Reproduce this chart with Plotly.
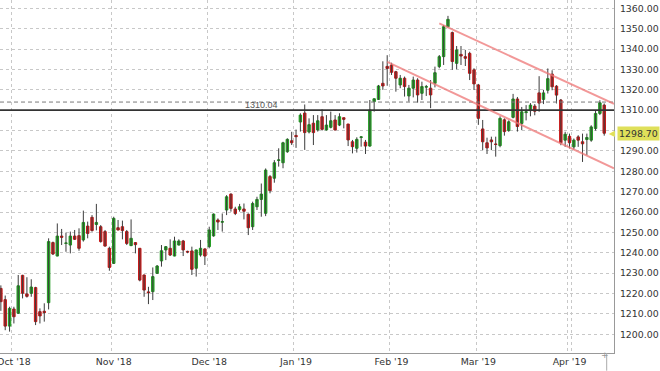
import pandas as pd
import plotly.graph_objects as go

# ---------------- data ----------------
_days = pd.bdate_range("2018-09-26", "2019-04-11")
dates = [d.strftime("%Y-%m-%d") for d in _days if d.strftime("%m-%d") not in ("12-25", "01-01")]

open_ = [
    1222.5, 1217.0, 1204.0,
    1212.4, 1210.3, 1228.9, 1219.8, 1220.1, 1222.9, 1211.1, 1211.3, 1215.5, 1245.0, 1238.4, 1248.2, 1244.6, 1243.8, 1248.2, 1248.4, 1246.3, 1253.1, 1257.4, 1253.9, 1252.8, 1250.4, 1242.2,
    1234.8, 1252.3, 1252.8, 1250.4, 1243.5, 1245.0, 1242.2, 1229.1, 1220.8, 1220.9, 1229.9, 1236.0, 1241.4, 1242.2, 1238.4, 1243.8, 1245.8, 1240.7, 1240.9, 1232.4, 1238.9, 1241.9,
    1243.0, 1248.3, 1256.1, 1255.0, 1261.0, 1268.8, 1261.5, 1261.3, 1261.5, 1258.9, 1252.8, 1262.6, 1266.2, 1259.4, 1277.4, 1276.6, 1285.3, 1284.2, 1289.6, 1295.0,
    1297.6, 1304.2, 1308.6, 1299.3, 1303.6, 1300.3, 1306.8, 1300.3, 1301.6, 1305.2, 1302.7, 1306.3, 1303.2, 1294.5, 1291.3, 1296.6, 1294.3, 1292.4, 1314.2, 1315.3, 1323.2, 1331.5,
    1332.2, 1328.9, 1322.4, 1325.7, 1317.0, 1320.8, 1324.8, 1318.3, 1321.3, 1320.8, 1323.2, 1331.4, 1336.3, 1351.0, 1348.1, 1333.0, 1337.4, 1336.3, 1337.9, 1329.8,
    1322.4, 1300.8, 1294.0, 1295.4, 1293.4, 1292.6, 1305.3, 1300.0, 1306.5, 1315.5, 1303.5, 1308.8, 1309.8, 1312.0, 1318.5, 1315.3, 1319.8, 1327.7, 1321.8, 1315.0, 1295.3,
    1297.2, 1292.0, 1296.9, 1294.5, 1295.6, 1295.3, 1301.0, 1308.4, 1312.5,
]
high = [
    1224.0, 1219.0, 1213.5,
    1213.5, 1229.1, 1229.2, 1228.0, 1227.0, 1223.3, 1212.7, 1215.2, 1247.1, 1245.5, 1254.4, 1251.7, 1249.9, 1250.4, 1251.2, 1252.0, 1260.7, 1255.3, 1258.5, 1264.0, 1253.6, 1251.2, 1243.0,
    1257.7, 1256.1, 1255.8, 1251.2, 1256.4, 1245.2, 1242.3, 1229.3, 1223.3, 1232.8, 1234.0, 1243.8, 1243.3, 1246.6, 1247.9, 1246.6, 1246.3, 1241.0, 1243.0, 1241.5, 1246.3, 1242.2,
    1252.8, 1259.3, 1256.9, 1259.3, 1268.3, 1269.2, 1262.6, 1264.0, 1264.2, 1259.3, 1265.1, 1267.5, 1274.0, 1281.4, 1278.2, 1285.5, 1291.3, 1294.5, 1296.2, 1299.4,
    1300.5, 1308.5, 1312.8, 1306.0, 1307.6, 1307.6, 1310.4, 1307.6, 1309.3, 1307.6, 1308.5, 1306.4, 1303.3, 1295.4, 1296.7, 1297.2, 1295.4, 1315.0, 1315.8, 1322.4, 1334.0, 1337.0,
    1333.3, 1329.3, 1327.3, 1326.5, 1322.4, 1326.5, 1325.7, 1324.0, 1322.4, 1324.8, 1331.4, 1337.1, 1351.8, 1356.3, 1348.6, 1341.5, 1341.5, 1339.6, 1338.7, 1330.6,
    1322.9, 1305.2, 1296.5, 1297.0, 1297.0, 1307.0, 1306.0, 1305.0, 1318.0, 1316.5, 1311.6, 1312.5, 1313.5, 1313.0, 1326.7, 1320.0, 1330.5, 1329.6, 1322.3, 1315.5, 1299.4,
    1298.5, 1296.1, 1297.7, 1298.5, 1298.5, 1302.6, 1310.0, 1314.9, 1313.3,
]
low = [
    1211.5, 1202.0, 1201.3,
    1205.3, 1210.0, 1217.6, 1218.0, 1218.4, 1204.5, 1205.3, 1206.2, 1212.2, 1238.9, 1238.3, 1243.8, 1240.5, 1239.7, 1246.3, 1241.0, 1245.5, 1247.1, 1250.4, 1251.0, 1245.0, 1243.0, 1231.2,
    1234.5, 1251.0, 1246.6, 1243.8, 1243.3, 1239.7, 1226.0, 1218.4, 1214.8, 1216.8, 1229.6, 1233.2, 1236.4, 1238.4, 1238.3, 1243.6, 1238.4, 1239.8, 1229.1, 1228.3, 1238.1, 1234.0,
    1242.2, 1247.9, 1251.2, 1250.4, 1258.5, 1260.2, 1258.5, 1260.2, 1256.4, 1248.7, 1251.2, 1261.0, 1257.7, 1258.0, 1269.2, 1274.4, 1282.3, 1281.5, 1289.1, 1292.9,
    1291.5, 1299.5, 1290.5, 1298.6, 1292.9, 1299.5, 1300.0, 1300.0, 1301.1, 1300.0, 1302.2, 1301.1, 1292.4, 1288.8, 1289.2, 1292.1, 1288.5, 1292.1, 1309.3, 1315.0, 1320.0, 1322.0,
    1327.3, 1319.1, 1320.8, 1316.7, 1314.2, 1316.3, 1313.7, 1315.0, 1317.0, 1311.0, 1321.2, 1330.6, 1332.2, 1350.7, 1329.8, 1330.1, 1332.2, 1331.7, 1324.8, 1319.9,
    1302.8, 1290.4, 1288.5, 1290.4, 1287.2, 1291.8, 1297.5, 1299.4, 1306.0, 1299.5, 1300.2, 1305.0, 1307.0, 1307.5, 1309.2, 1313.0, 1318.2, 1319.8, 1313.3, 1292.8, 1292.0,
    1291.2, 1290.7, 1292.0, 1284.6, 1287.9, 1294.5, 1300.0, 1307.6, 1297.5,
]
close = [
    1216.0, 1204.0, 1212.7,
    1208.6, 1223.8, 1220.1, 1218.6, 1223.2, 1206.2, 1209.0, 1210.6, 1245.5, 1239.4, 1248.2, 1247.6, 1244.8, 1248.2, 1246.6, 1242.2, 1254.9, 1249.5, 1250.9, 1254.9, 1245.5, 1243.3, 1232.8,
    1256.9, 1251.2, 1250.9, 1244.6, 1247.1, 1244.0, 1226.6, 1221.7, 1220.4, 1228.3, 1233.5, 1241.0, 1243.0, 1238.9, 1245.8, 1245.8, 1241.4, 1240.4, 1231.9, 1241.4, 1242.2, 1238.4,
    1251.2, 1259.0, 1255.1, 1255.3, 1267.5, 1261.8, 1259.3, 1262.6, 1260.4, 1252.3, 1264.2, 1266.2, 1268.8, 1280.6, 1270.5, 1284.2, 1285.6, 1294.0, 1295.7, 1294.0,
    1297.0, 1307.6, 1299.0, 1302.9, 1299.0, 1304.8, 1300.6, 1302.7, 1304.8, 1300.3, 1306.8, 1305.5, 1295.4, 1292.1, 1295.7, 1296.9, 1292.4, 1310.1, 1315.6, 1321.9, 1321.9, 1330.5,
    1328.6, 1325.7, 1325.7, 1321.6, 1320.8, 1324.8, 1317.5, 1321.6, 1321.6, 1317.5, 1328.4, 1336.3, 1351.0, 1354.6, 1333.9, 1339.6, 1336.6, 1335.5, 1328.1, 1322.9,
    1306.0, 1294.5, 1291.5, 1294.5, 1293.2, 1306.0, 1299.5, 1304.3, 1315.5, 1302.0, 1309.2, 1309.2, 1312.5, 1309.5, 1313.5, 1318.5, 1325.5, 1321.5, 1317.4, 1294.0, 1298.2,
    1294.0, 1295.3, 1295.3, 1293.5, 1296.6, 1301.8, 1308.4, 1313.6, 1298.7,
]

tick_dates = ["2018-10-01", "2018-11-01", "2018-12-03", "2019-01-02", "2019-02-01", "2019-03-01", "2019-04-01"]
tick_labels = ["Oct '18", "Nov '18", "Dec '18", "Jan '19", "Feb '19", "Mar '19", "Apr '19"]

price_ticks = list(range(1200, 1361, 10))
last_price = 1298.70
level_solid = 1310.04
level_dashed = 1314.0

upper_channel_dates = ["2019-02-18", "2019-04-11"]
upper_channel_prices = [1352.6, 1315.3]
lower_channel_dates = ["2019-01-31", "2019-04-11"]
lower_channel_prices = [1333.7, 1283.7]

assert len(dates) == len(open_) == len(high) == len(low) == len(close)

# ---------------- figure ----------------
X_RANGE = [-0.2, 141.25]
Y_RANGE = [1190.8, 1364.1]
FONT = "DejaVu Sans"
FS = 9.4

fig = go.Figure()

# wicks
wx, wy = [], []
for d, h, l in zip(dates, high, low):
    wx += [d, d, None]
    wy += [l, h, None]
fig.add_trace(go.Scatter(x=wx, y=wy, mode="lines", line=dict(color="#3c3c3c", width=1),
                         hoverinfo="skip", showlegend=False))

# bodies
body_hi = [max(o, c) for o, c in zip(open_, close)]
body_lo = [min(o, c) for o, c in zip(open_, close)]
fig.add_trace(go.Candlestick(
    x=dates, open=open_, high=body_hi, low=body_lo, close=close,
    increasing=dict(line=dict(color="#1f9a1f", width=1), fillcolor="#2db32d"),
    decreasing=dict(line=dict(color="#c41414", width=1), fillcolor="#d42020"),
    whiskerwidth=0, showlegend=False, hoverinfo="skip",
))

shapes = []
# horizontal levels
shapes.append(dict(type="line", xref="paper", x0=0, x1=1, yref="y", y0=level_dashed, y1=level_dashed,
                   line=dict(color="#7a7a7a", width=1, dash="4px,3px"), layer="above"))
shapes.append(dict(type="line", xref="paper", x0=0, x1=1, yref="y", y0=level_solid, y1=level_solid,
                   line=dict(color="#333333", width=1.6), layer="above"))

# channel lines
for cd, cp in ((upper_channel_dates, upper_channel_prices), (lower_channel_dates, lower_channel_prices)):
    i0, i1 = dates.index(cd[0]), dates.index(cd[1])
    slope = (cp[1] - cp[0]) / (i1 - i0)
    y_end = cp[1] + slope * (X_RANGE[1] - i1)
    shapes.append(dict(type="line", xref="x", yref="y", x0=i0, y0=cp[0], x1=X_RANGE[1], y1=y_end,
                       line=dict(color="rgba(238,118,118,0.75)", width=2), layer="above"))

# small separator at bottom right
shapes.append(dict(type="line", xref="paper", yref="paper", x0=606.7 / 614, x1=606.7 / 614, y0=0, y1=-0.05,
                   line=dict(color="#aaaaaa", width=1)))

annotations = [
    dict(xref="paper", x=261 / 614, yref="y", y=1312.5, text="1310.04", showarrow=False,
         font=dict(family="Liberation Sans", size=9, color="#555555")),
    dict(xref="paper", x=618.5 / 614, yref="y", y=last_price, text="◀", showarrow=False, xanchor="right",
         font=dict(family=FONT, size=8, color="#dfe05a")),
    dict(xref="paper", x=617.5 / 614, yref="y", y=last_price, text=f"{last_price:.2f}", showarrow=False,
         xanchor="left", bgcolor="#dfe05a", borderpad=1,
         font=dict(family=FONT, size=FS, color="#333333")),
    dict(xref="paper", x=611 / 614, yref="paper", y=-0.026, text="+", showarrow=False,
         font=dict(family=FONT, size=9, color="#999999")),
]

fig.update_layout(
    width=660, height=371,
    margin=dict(l=0, r=46, t=0, b=18, autoexpand=False),
    paper_bgcolor="white", plot_bgcolor="white",
    showlegend=False, boxgap=0.2,
    shapes=shapes, annotations=annotations,
    font=dict(family=FONT, size=FS, color="#333333"),
    xaxis=dict(
        type="category", range=X_RANGE, rangeslider=dict(visible=False), automargin=False,
        tickmode="array", tickvals=tick_dates, ticktext=tick_labels, tickson="boundaries", tickangle=0,
        showgrid=True, gridcolor="#c8c8c8", griddash="dot", gridwidth=1,
        ticks="", showline=True, linecolor="#999999", linewidth=1,
        tickfont=dict(family=FONT, size=FS, color="#333333"), zeroline=False,
    ),
    yaxis=dict(
        side="right", range=Y_RANGE, automargin=False,
        tickmode="array", tickvals=price_ticks,
        ticktext=["" if abs(v - 1300) < 1e-9 else f"{v:.2f}" for v in price_ticks],
        showgrid=True, gridcolor="#c8c8c8", griddash="dot", gridwidth=1,
        ticks="", showline=True, linecolor="#999999", linewidth=1, ticklabelstandoff=3,
        tickfont=dict(family=FONT, size=FS, color="#333333"), zeroline=False,
    ),
)

fig.write_html("out.html")
